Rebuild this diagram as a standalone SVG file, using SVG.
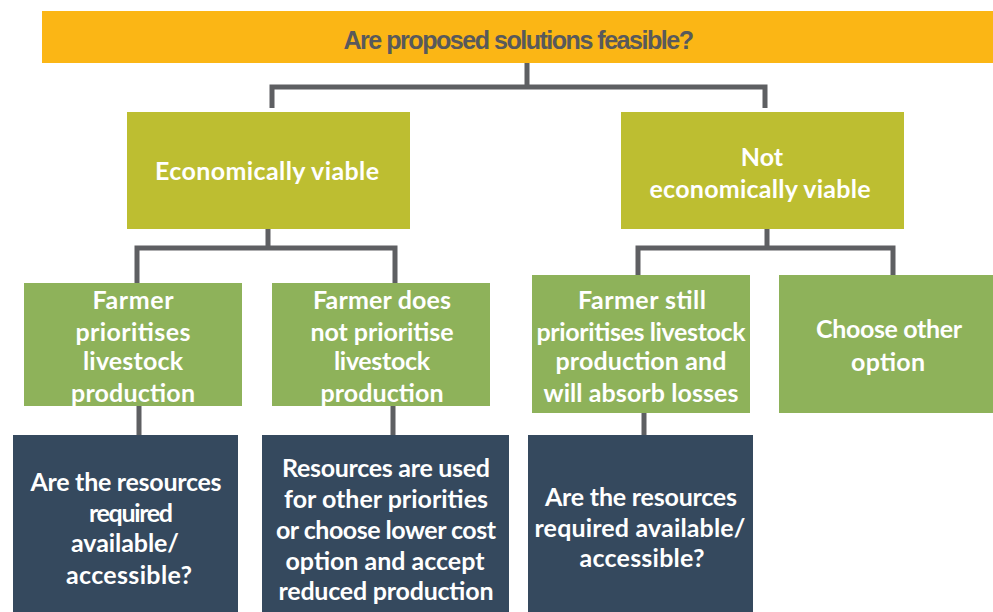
<svg xmlns="http://www.w3.org/2000/svg" width="993" height="612" viewBox="0 0 993 612">
<style>
.bg{fill:#ffffff}
.top{fill:#FBB615}
.l1{fill:#BDBE31}
.l2{fill:#8EB25A}
.dk{fill:#35495E}
.conn{fill:none;stroke:#5E5F62;stroke-width:5;stroke-linejoin:miter;stroke-linecap:butt}
.t{font-family:Lato,"Open Sans","DejaVu Sans",sans-serif;font-weight:700;font-size:25px;fill:#ffffff;text-anchor:middle;dominant-baseline:central}
.title{font-family:"Liberation Sans",Arial,sans-serif;font-weight:700;font-size:25px;fill:#58595B;text-anchor:middle;dominant-baseline:central;letter-spacing:-1.5px}
</style>
<rect class="bg" x="0" y="0" width="993" height="612"/>
<g id="connectors">
<path class="conn" d="M272,108 V87 H765 V108 M527,63 V87"/>
<path class="conn" d="M137,283 V248 H395 V283 M268,229 V248"/>
<path class="conn" d="M638,275 V248 H893 V275 M767,229 V248"/>
<path class="conn" d="M139,406 V435 M393,406 V435 M644,413 V435"/>
</g>
<g id="n-root">
<rect class="top" x="42" y="11" width="951" height="52"/>
<text class="title" x="518" y="40" textLength="349" lengthAdjust="spacingAndGlyphs">Are proposed solutions feasible?</text>
</g>
<g id="n-viable">
<rect class="l1" x="127" y="112" width="283" height="117"/>
<text class="t" x="267" y="170" textLength="224">Economically viable</text>
</g>
<g id="n-notviable">
<rect class="l1" x="621" y="112" width="283" height="117"/>
<text class="t" x="762" y="156">Not</text>
<text class="t" x="760" y="188" textLength="221">economically viable</text>
</g>
<g id="n-prioritises">
<rect class="l2" x="24" y="283" width="218" height="123"/>
<text class="t" x="133" y="299" textLength="81">Farmer</text>
<text class="t" x="133" y="331" textLength="115">prioritises</text>
<text class="t" x="133" y="360" textLength="100">livestock</text>
<text class="t" x="133" y="392" textLength="124">production</text>
</g>
<g id="n-notprioritise">
<rect class="l2" x="272" y="283" width="218" height="123"/>
<text class="t" x="382" y="299" textLength="138">Farmer does</text>
<text class="t" x="382" y="331" textLength="143">not prioritise</text>
<text class="t" x="382" y="360" textLength="96">livestock</text>
<text class="t" x="382" y="392" textLength="123">production</text>
</g>
<g id="n-still">
<rect class="l2" x="532" y="275" width="218" height="138"/>
<text class="t" x="642" y="299" textLength="128">Farmer still</text>
<text class="t" x="641" y="331" textLength="209">prioritises livestock</text>
<text class="t" x="641" y="360" textLength="171">production and</text>
<text class="t" x="641" y="392" textLength="195">will absorb losses</text>
</g>
<g id="n-other">
<rect class="l2" x="779" y="275" width="214" height="138"/>
<text class="t" x="889" y="328" textLength="146">Choose other</text>
<text class="t" x="888" y="361" textLength="74">option</text>
</g>
<g id="n-resA">
<rect class="dk" x="13" y="435" width="225" height="177"/>
<text class="t" x="126" y="481" textLength="191">Are the resources</text>
<text class="t" x="131" y="512" textLength="84">required</text>
<text class="t" x="125" y="542" textLength="108">available/</text>
<text class="t" x="129" y="574" textLength="126">accessible?</text>
</g>
<g id="n-resB">
<rect class="dk" x="262" y="435" width="247" height="177"/>
<text class="t" x="386" y="467" textLength="208">Resources are used</text>
<text class="t" x="386" y="498" textLength="204">for other priorities</text>
<text class="t" x="386" y="529" textLength="220">or choose lower cost</text>
<text class="t" x="385" y="560" textLength="199">option and accept</text>
<text class="t" x="386" y="590" textLength="215">reduced production</text>
</g>
<g id="n-resC">
<rect class="dk" x="528" y="435" width="225" height="177"/>
<text class="t" x="641" y="496" textLength="192">Are the resources</text>
<text class="t" x="640" y="527" textLength="211">required available/</text>
<text class="t" x="642" y="557" textLength="125">accessible?</text>
</g>
</svg>
